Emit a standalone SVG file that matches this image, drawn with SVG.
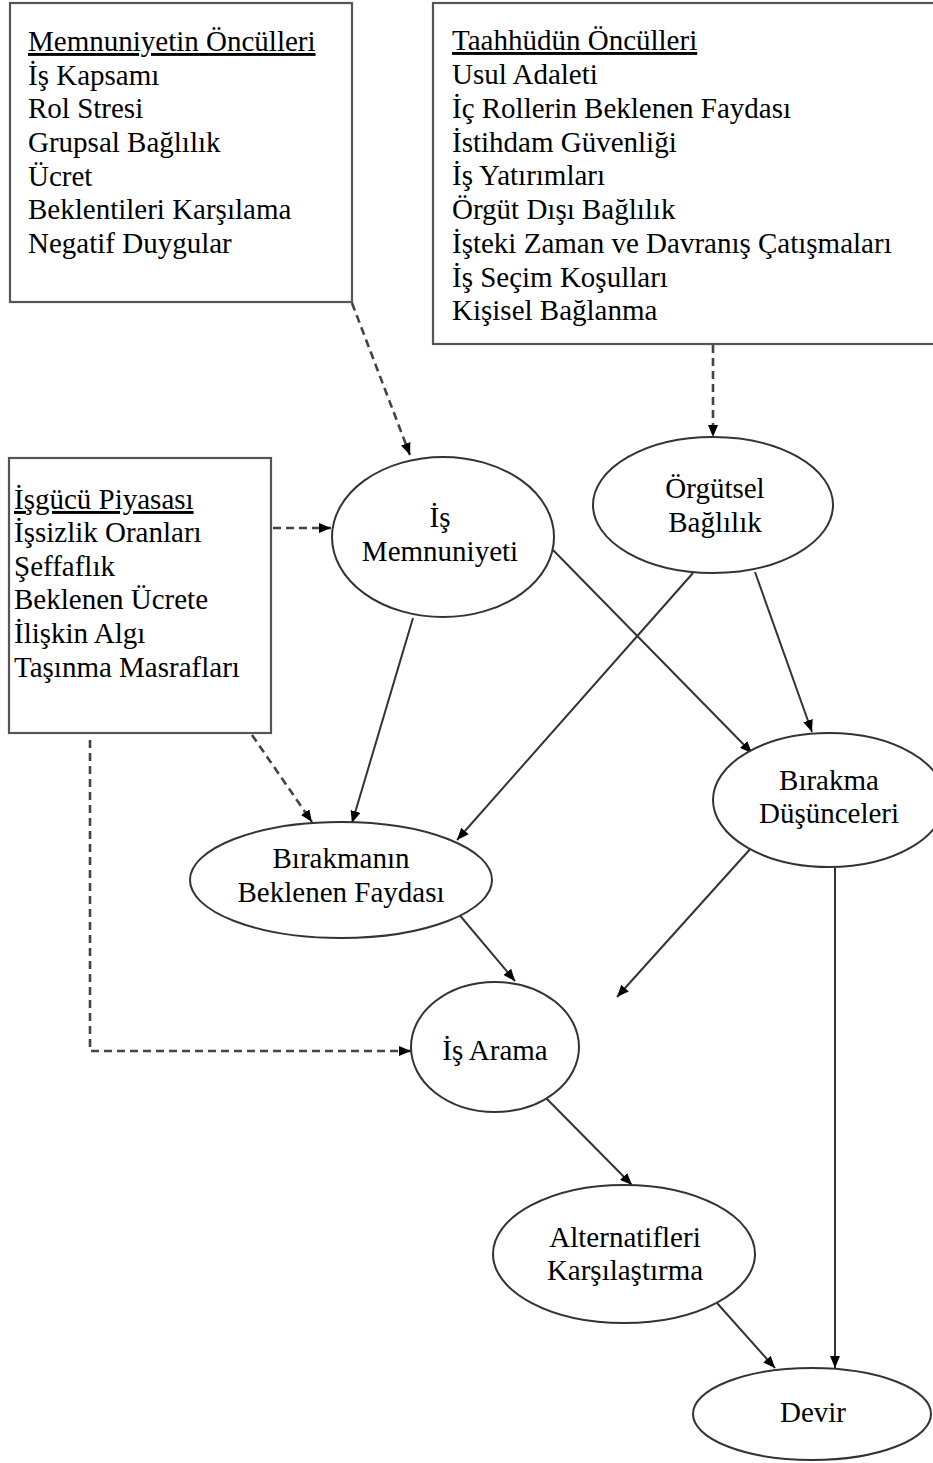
<svg xmlns="http://www.w3.org/2000/svg" width="933" height="1463" viewBox="0 0 933 1463">
<style>
  text { font-family: "Liberation Serif", "Times New Roman", serif; font-size: 29px; fill: #000; }
  .box { fill: #fff; stroke: #555; stroke-width: 2.2; }
  .ell { fill: #fff; stroke: #333; stroke-width: 2; }
  .c { text-anchor: middle; }
  .u { text-decoration: underline; }
  .solid { stroke: #333; stroke-width: 2; fill: none; }
  .dash { stroke: #444; stroke-width: 2.6; fill: none; stroke-dasharray: 8 5; }
</style>
<defs>
  <marker id="ah" viewBox="0 0 12 10" refX="12" refY="5" markerWidth="12" markerHeight="10" markerUnits="userSpaceOnUse" orient="auto">
    <path d="M0,0 L12,5 L0,10 Z" fill="#000"/>
  </marker>
</defs>
<rect width="933" height="1463" fill="#fff"/>

<g id="connectors">
  <line class="dash" x1="352" y1="303" x2="410" y2="455" marker-end="url(#ah)"/>
  <line class="dash" x1="713" y1="345" x2="713" y2="437" marker-end="url(#ah)"/>
  <line class="dash" x1="273" y1="528" x2="331" y2="528" marker-end="url(#ah)"/>
  <line class="dash" x1="252" y1="735" x2="312" y2="822" marker-end="url(#ah)"/>
  <polyline class="dash" points="90,740 90,1051 411,1051" marker-end="url(#ah)"/>
  <line class="solid" x1="413" y1="618" x2="352" y2="823" marker-end="url(#ah)"/>
  <line class="solid" x1="553" y1="550" x2="752" y2="753" marker-end="url(#ah)"/>
  <line class="solid" x1="693" y1="573" x2="457" y2="840" marker-end="url(#ah)"/>
  <line class="solid" x1="755" y1="572" x2="812" y2="732" marker-end="url(#ah)"/>
  <line class="solid" x1="457" y1="912" x2="515" y2="981" marker-end="url(#ah)"/>
  <line class="solid" x1="752" y1="847" x2="617" y2="997" marker-end="url(#ah)"/>
  <line class="solid" x1="835" y1="868" x2="835" y2="1368" marker-end="url(#ah)"/>
  <line class="solid" x1="545" y1="1097" x2="632" y2="1185" marker-end="url(#ah)"/>
  <line class="solid" x1="717" y1="1303" x2="775" y2="1368" marker-end="url(#ah)"/>
</g>

<g id="box-memnuniyet">
  <rect class="box" x="10" y="3" width="342" height="299"/>
  <text x="28" y="51" class="u">Memnuniyetin Öncülleri</text>
  <text x="28" y="85">İş Kapsamı</text>
  <text x="28" y="118">Rol Stresi</text>
  <text x="28" y="152">Grupsal Bağlılık</text>
  <text x="28" y="186">Ücret</text>
  <text x="28" y="219">Beklentileri Karşılama</text>
  <text x="28" y="253">Negatif Duygular</text>
</g>

<g id="box-taahhut">
  <rect class="box" x="433" y="3" width="510" height="341"/>
  <text x="452" y="50" class="u">Taahhüdün Öncülleri</text>
  <text x="452" y="84">Usul Adaleti</text>
  <text x="452" y="118">İç Rollerin Beklenen Faydası</text>
  <text x="452" y="152">İstihdam Güvenliği</text>
  <text x="452" y="185">İş Yatırımları</text>
  <text x="452" y="219">Örgüt Dışı Bağlılık</text>
  <text x="452" y="253">İşteki Zaman ve Davranış Çatışmaları</text>
  <text x="452" y="287">İş Seçim Koşulları</text>
  <text x="452" y="320">Kişisel Bağlanma</text>
</g>

<g id="box-isgucu">
  <rect class="box" x="9" y="458" width="262" height="275"/>
  <text x="14" y="509" class="u">İşgücü Piyasası</text>
  <text x="14" y="542">İşsizlik Oranları</text>
  <text x="14" y="576">Şeffaflık</text>
  <text x="14" y="609">Beklenen Ücrete</text>
  <text x="14" y="643">İlişkin Algı</text>
  <text x="14" y="677">Taşınma Masrafları</text>
</g>

<g id="is-memnuniyeti">
  <ellipse class="ell" cx="443" cy="537" rx="111" ry="80"/>
  <text x="440" y="527" class="c">İş</text>
  <text x="440" y="561" class="c">Memnuniyeti</text>
</g>

<g id="orgutsel-baglilik">
  <ellipse class="ell" cx="713" cy="505" rx="120" ry="68"/>
  <text x="715" y="498" class="c">Örgütsel</text>
  <text x="715" y="532" class="c">Bağlılık</text>
</g>

<g id="birakmanin-faydasi">
  <ellipse class="ell" cx="341" cy="880" rx="151" ry="58"/>
  <text x="341" y="868" class="c">Bırakmanın</text>
  <text x="341" y="902" class="c">Beklenen Faydası</text>
</g>

<g id="birakma-dusunceleri">
  <ellipse class="ell" cx="829" cy="800" rx="116" ry="67"/>
  <text x="829" y="790" class="c">Bırakma</text>
  <text x="829" y="823" class="c">Düşünceleri</text>
</g>

<g id="is-arama">
  <ellipse class="ell" cx="495" cy="1047" rx="84" ry="65"/>
  <text x="495" y="1060" class="c">İş Arama</text>
</g>

<g id="alternatifleri">
  <ellipse class="ell" cx="624" cy="1254" rx="131" ry="69"/>
  <text x="625" y="1247" class="c">Alternatifleri</text>
  <text x="625" y="1280" class="c">Karşılaştırma</text>
</g>

<g id="devir">
  <ellipse class="ell" cx="812" cy="1414" rx="119" ry="46"/>
  <text x="813" y="1422" class="c">Devir</text>
</g>
</svg>
